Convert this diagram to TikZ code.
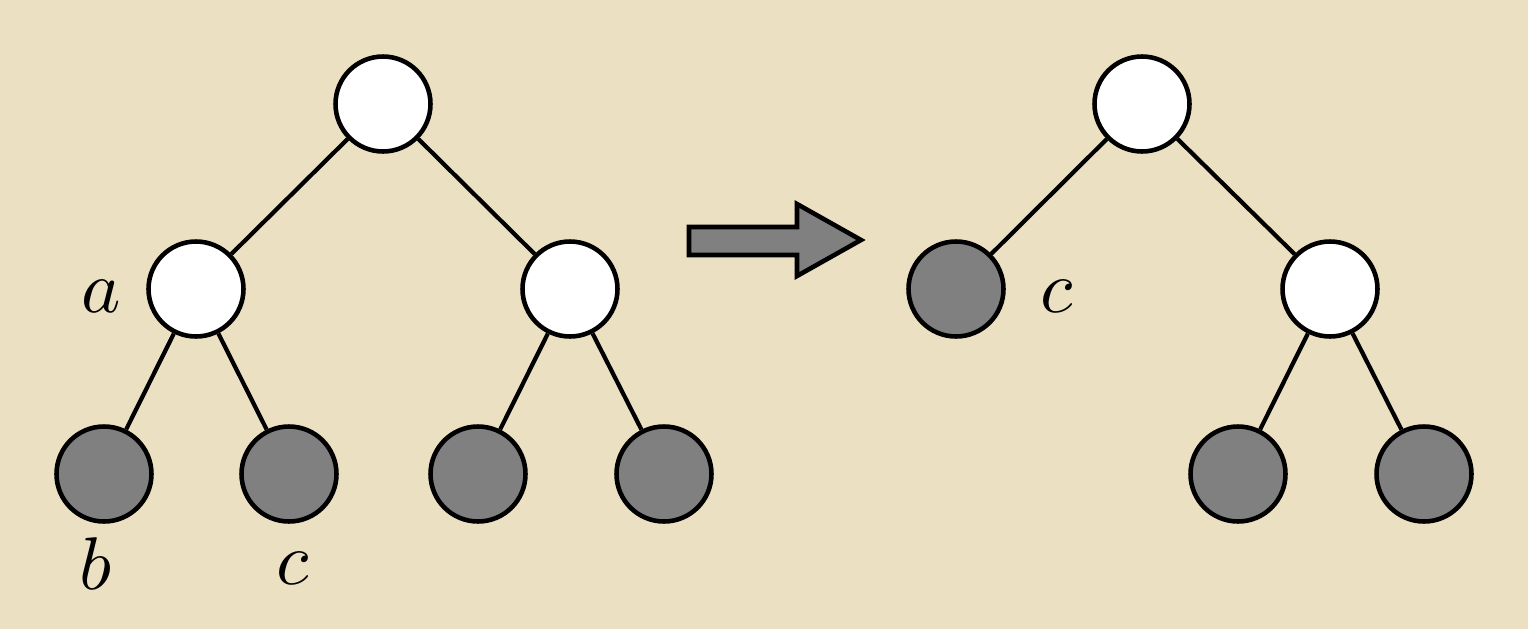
\documentclass[tikz,border=0pt]{standalone}
\usepackage{graphicx}
\usetikzlibrary{shapes.arrows}
\definecolor{bg}{RGB}{235,224,194}
\definecolor{leafgray}{RGB}{128,128,128}
\newcommand{\biglabel}[1]{\scalebox{4.25}{\normalsize$#1$}}
\begin{document}
\begin{tikzpicture}[x=0.02cm,y=-0.02cm,
  inner/.style={circle,draw=black,line width=2.6pt,fill=white,minimum size=1.9cm,inner sep=0pt},
  leaf/.style={circle,draw=black,line width=2.6pt,fill=leafgray,minimum size=1.9cm,inner sep=0pt},
  edge/.style={line width=2.4pt},
  lbl/.style={inner sep=0pt}]
\fill[bg] (0,0) rectangle (1528,629);
\useasboundingbox (0,0) rectangle (1528,629);
% left tree
\node[inner] (r) at (383,104) {};
\node[inner] (a) at (196,289) {};
\node[inner] (q) at (570,289) {};
\node[leaf] (b) at (104,474) {};
\node[leaf] (c) at (289,474) {};
\node[leaf] (d) at (478,474) {};
\node[leaf] (e) at (664,474) {};
\draw[edge] (r) -- (a);
\draw[edge] (r) -- (q);
\draw[edge] (a) -- (b);
\draw[edge] (a) -- (c);
\draw[edge] (q) -- (d);
\draw[edge] (q) -- (e);
\node[lbl] (la) at (101,296) {\biglabel{a}};
\node[lbl] (lb) at (96,564) {\biglabel{b}};
\node[lbl] (lc) at (293,568) {\biglabel{c}};
% transformation arrow
\draw[line width=2.6pt,fill=leafgray,line join=miter]
  (689,227) -- (797,227) -- (797,204) -- (861,240) -- (797,276) -- (797,255) -- (689,255) -- cycle;
% right tree
\node[inner] (r2) at (1142,104) {};
\node[leaf] (c2) at (956,289) {};
\node[inner] (q2) at (1330,289) {};
\node[leaf] (d2) at (1238,474) {};
\node[leaf] (e2) at (1424,474) {};
\draw[edge] (r2) -- (c2);
\draw[edge] (r2) -- (q2);
\draw[edge] (q2) -- (d2);
\draw[edge] (q2) -- (e2);
\node[lbl] (lc2) at (1057,296) {\biglabel{c}};
\end{tikzpicture}
\end{document}
